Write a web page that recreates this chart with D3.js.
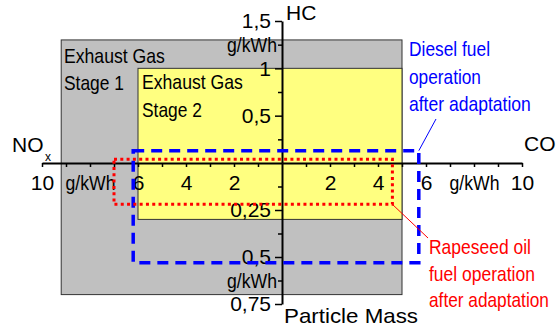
<!DOCTYPE html>
<html>
<head>
<meta charset="utf-8">
<script src="https://cdn.jsdelivr.net/npm/d3@7"></script>
<style>
  body { margin: 0; background: #fff; }
  text { font-family: 'Liberation Sans', Arial, sans-serif; }
</style>
</head>
<body>
<svg width="558" height="330"></svg>
<script>
'use strict'

// emission limits (g/kWh)
const stageNames = [['Exhaust Gas', 'Stage 1'], ['Exhaust Gas', 'Stage 2']]
const stageNox = [9.2, 6.0]
const stageCo = [5.0, 5.0]
const stageHc = [1.3, 1.0]
const stagePm = [0.7, 0.3]

// measured after adaptation
const fuelNames = [
  ['Diesel fuel', 'operation', 'after adaptation'],
  ['Rapeseed oil', 'fuel operation', 'after adaptation']
]
const fuelNox = [6.2, 7.0]
const fuelCo = [5.7, 4.6]
const fuelHc = [0.13, 0.04]
const fuelPm = [0.53, 0.22]

const kwTicks = [1, 2, 3, 4, 5, 6, 7, 8, 9, 10]
const kwLabels = ['', '2', '', '4', '', '6', '', 'g/kWh', '', '10']
const hcTicks = [0.25, 0.5, 0.75, 1, 1.25, 1.5]
const hcLabels = ['', '0,5', '', '1', 'g/kWh', '1,5']
const pmTicks = [0.125, 0.25, 0.375, 0.5, 0.625, 0.75]
const pmLabels = ['', '0,25', '', '0,5', 'g/kWh', '0,75']

const cx = 282,
  cy = 163

const svg = d3.select('svg')

const xNox = d3.scaleLinear().domain([0, 10]).range([cx, 42])
const xCo = d3.scaleLinear().domain([0, 10]).range([cx, 522])
const yHc = d3.scaleLinear().domain([0, 1.5]).range([cy, 21])
const yPm = d3.scaleLinear().domain([0, 0.75]).range([cy, 304])

const stageFill = ['#c0c0c0', '#ffff80']

stageNames.forEach((s, i) => {
  svg
    .append('rect')
    .attr('x', xNox(stageNox[i]))
    .attr('y', yHc(stageHc[i]))
    .attr('width', xCo(stageCo[i]) - xNox(stageNox[i]))
    .attr('height', yPm(stagePm[i]) - yHc(stageHc[i]))
    .attr('fill', stageFill[i])
    .attr('stroke', '#333')
    .attr('stroke-width', 1)
})

// squeeze text horizontally to a given width (the original font is narrow)
function narrowText(sel, x, y, width) {
  const k = width / sel.node().getComputedTextLength()
  sel.attr('transform', 'translate(' + x + ',' + y + ') scale(' + k + ',1)')
}

function textBlock(lines, x, y, step, widths, color) {
  lines.forEach((t, i) => {
    const txt = svg
      .append('text')
      .attr('font-size', 20)
      .attr('fill', color)
      .text(t)
    narrowText(txt, x, y + i * step, widths[i])
  })
}

textBlock(stageNames[0], 64, 63, 27, [101, 60], '#000')
textBlock(stageNames[1], 142, 89, 28, [101, 60], '#000')

function styleAxis(g) {
  g.attr('font-size', 21).attr('font-family', "'Liberation Sans', Arial, sans-serif")
  g.select('.domain').attr('stroke-width', 2)
  g.selectAll('.tick line').attr('stroke-width', 1.5)
  g.selectAll('.tick text')
    .filter(function() { return this.textContent === 'g/kWh' })
    .attr('textLength', 50)
    .attr('lengthAdjust', 'spacingAndGlyphs')
}

const bottomAxis = (scale) =>
  d3
    .axisBottom(scale)
    .tickValues(kwTicks)
    .tickFormat((d, i) => kwLabels[i])
    .tickSize(4)
    .tickSizeOuter(0)
    .tickPadding(8)

svg.append('g').attr('transform', 'translate(0,' + cy + ')').call(bottomAxis(xNox)).call(styleAxis)
svg.append('g').attr('transform', 'translate(0,' + cy + ')').call(bottomAxis(xCo)).call(styleAxis)

const leftAxis = (scale, ticks, labels) =>
  d3
    .axisLeft(scale)
    .tickValues(ticks)
    .tickFormat((d, i) => labels[i])
    .tickSize(7)
    .tickSizeOuter(0)
    .tickPadding(4)

function shortTicks(labels) {
  return g => {
    const minor = g.selectAll('.tick').filter((d, i) => !/\d/.test(labels[i]))
    minor.select('line').attr('x2', -4)
    minor.select('text').attr('x', -5)
  }
}

svg
  .append('g')
  .attr('transform', 'translate(' + cx + ',0)')
  .call(leftAxis(yHc, hcTicks, hcLabels))
  .call(styleAxis)
  .call(shortTicks(hcLabels))

svg
  .append('g')
  .attr('transform', 'translate(' + cx + ',0)')
  .call(leftAxis(yPm, pmTicks, pmLabels))
  .call(styleAxis)
  .call(shortTicks(pmLabels))

// axis titles
svg.append('text').attr('x', 12).attr('y', 152).attr('font-size', 21).text('NO')
svg.append('text').attr('x', 45).attr('y', 161).attr('font-size', 12).text('x')
svg.append('text').attr('x', 524).attr('y', 151).attr('font-size', 21).text('CO')
svg.append('text').attr('x', 286).attr('y', 20).attr('font-size', 21).text('HC')
svg
  .append('text')
  .attr('x', 284)
  .attr('y', 323)
  .attr('font-size', 21)
  .attr('textLength', 134)
  .attr('lengthAdjust', 'spacingAndGlyphs')
  .text('Particle Mass')

// fuel operating areas
const fuelColor = ['#0000ff', '#ff0000']
const fuelDash = ['11,7', '3,3.3']
const fuelWidth = [3.5, 3]

fuelNames.forEach((f, i) => {
  svg
    .append('rect')
    .attr('x', xNox(fuelNox[i]))
    .attr('y', yHc(fuelHc[i]))
    .attr('width', xCo(fuelCo[i]) - xNox(fuelNox[i]))
    .attr('height', yPm(fuelPm[i]) - yHc(fuelHc[i]))
    .attr('fill', 'none')
    .attr('stroke', fuelColor[i])
    .attr('stroke-width', fuelWidth[i])
    .attr('stroke-dasharray', fuelDash[i])
})

// leader lines
svg
  .append('line')
  .attr('x1', 436)
  .attr('y1', 119)
  .attr('x2', xCo(fuelCo[0]))
  .attr('y2', yHc(fuelHc[0]))
  .attr('stroke', fuelColor[0])
  .attr('stroke-width', 1)

svg
  .append('line')
  .attr('x1', xCo(fuelCo[1]))
  .attr('y1', yPm(fuelPm[1]))
  .attr('x2', 428)
  .attr('y2', 238)
  .attr('stroke', fuelColor[1])
  .attr('stroke-width', 1)

textBlock(fuelNames[0], 409, 56, 27.5, [81, 72, 122], fuelColor[0])
textBlock(fuelNames[1], 429, 254, 26.7, [102, 106, 120], fuelColor[1])
</script>
</body>
</html>
